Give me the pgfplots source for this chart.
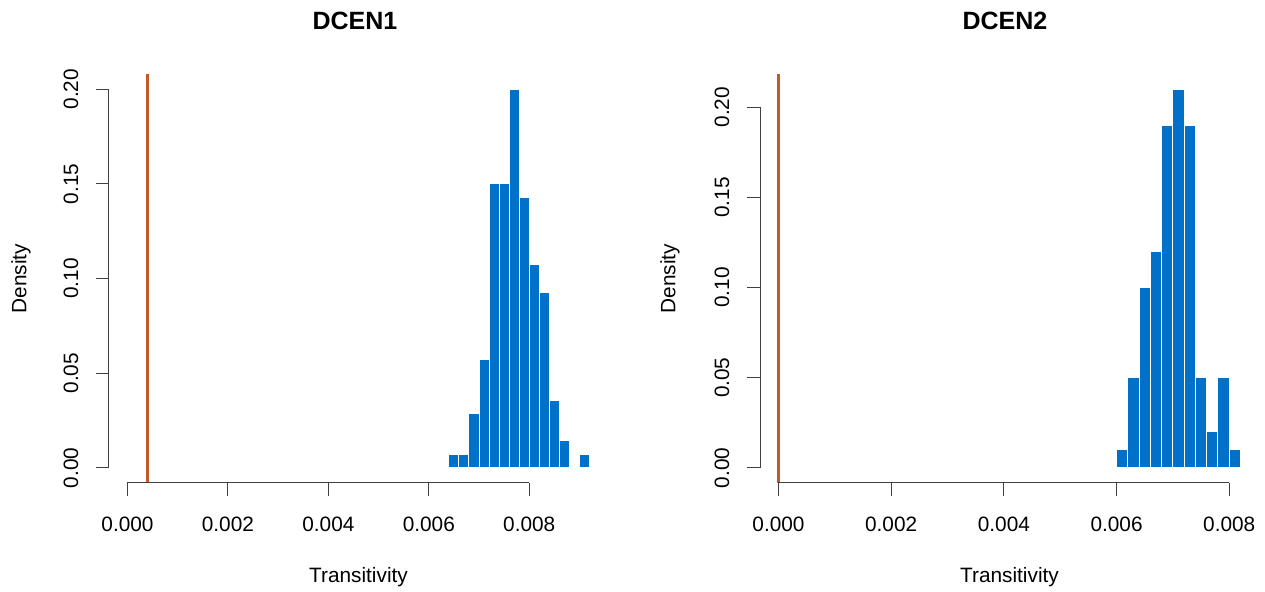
\documentclass[border=0pt]{standalone}
\usepackage{fontspec}
\setmainfont{Liberation Sans}
\usepackage{pgfplots}
\pgfplotsset{compat=1.18}
\definecolor{barblue}{RGB}{0,112,200}
\definecolor{vline}{RGB}{196,90,44}
\newcommand{\tfont}{\fontsize{10.4}{12}\selectfont}
\pgfplotsset{
  rhist/.style={
    scale only axis, width=249.5pt, height=204.5pt,
    anchor=south west, clip=false,
    axis x line*=bottom, axis y line*=left,
    axis line style={draw=none},
    tick align=outside,
    major tick length=6.3pt,
    tick style={black!75, line width=0.5pt},
    ytick={0,0.05,0.10,0.15,0.20},
    xtick={0,0.002,0.004,0.006,0.008},
    scaled ticks=false,
    /pgf/number format/assume math mode=true,
    tick label style={font=\tfont},
    xticklabel={\pgfmathprintnumber[fixed,fixed zerofill,precision=3]{\tick}},
    yticklabel={\pgfmathprintnumber[fixed,fixed zerofill,precision=2]{\tick}},
    yticklabel style={rotate=90, anchor=south},
    xticklabel shift=7pt,
    yticklabel shift=5.5pt,
  }
}
\begin{document}
\begin{tikzpicture}
\path[use as bounding box] (0,0) rectangle (632.5pt,296pt);
% ---------- Panel 1 ----------
\begin{axis}[rhist, at={(54.5pt,54.5pt)},
  xmin=-0.000368, xmax=0.009568, ymin=-0.008, ymax=0.208]
\addplot[ybar interval, fill=barblue, draw=white, line width=0.5pt] coordinates {
(0.0064,0.00714) (0.0066,0.00714) (0.0068,0.02857) (0.0070,0.05714)
(0.0072,0.15) (0.0074,0.15) (0.0076,0.2) (0.0078,0.14286)
(0.0080,0.10714) (0.0082,0.09286) (0.0084,0.03571) (0.0086,0.01429)
(0.0088,0) (0.0090,0.00714) (0.0092,0.00714)};
\addplot[vline, line width=1.6pt] coordinates {(0.0004,-0.008) (0.0004,0.208)};
\draw[black!75, line width=0.5pt] (axis cs:0,-0.008) -- (axis cs:0.008,-0.008);
\draw[black!75, line width=0.5pt] (axis cs:-0.000368,0) -- (axis cs:-0.000368,0.2);
\end{axis}
% ---------- Panel 2 ----------
\begin{axis}[rhist, at={(380pt,54.5pt)},
  xmin=-0.000328, xmax=0.008528, ymin=-0.0084, ymax=0.2184]
\addplot[ybar interval, fill=barblue, draw=white, line width=0.5pt] coordinates {
(0.0060,0.01) (0.0062,0.05) (0.0064,0.10) (0.0066,0.12)
(0.0068,0.19) (0.0070,0.21) (0.0072,0.19) (0.0074,0.05)
(0.0076,0.02) (0.0078,0.05) (0.0080,0.01) (0.0082,0.01)};
\addplot[vline, line width=1.6pt] coordinates {(0.0,-0.0084) (0.0,0.2184)};
\draw[black!75, line width=0.5pt] (axis cs:0,-0.0084) -- (axis cs:0.008,-0.0084);
\draw[black!75, line width=0.5pt] (axis cs:-0.000328,0) -- (axis cs:-0.000328,0.2);
\end{axis}
% ---------- Labels ----------
\node[font=\fontsize{12.5}{14}\selectfont\bfseries] at (177.5pt,285.5pt) {DCEN1};
\node[font=\fontsize{12.5}{14}\selectfont\bfseries] at (502.5pt,285.5pt) {DCEN2};
\node[font=\tfont, rotate=90] at (10.5pt,156.75pt) {Density};
\node[font=\tfont, rotate=90] at (335pt,156.75pt) {Density};
\node[font=\tfont] at (179.25pt,7.5pt) {Transitivity};
\node[font=\tfont] at (504.75pt,7.5pt) {Transitivity};
\end{tikzpicture}
\end{document}
